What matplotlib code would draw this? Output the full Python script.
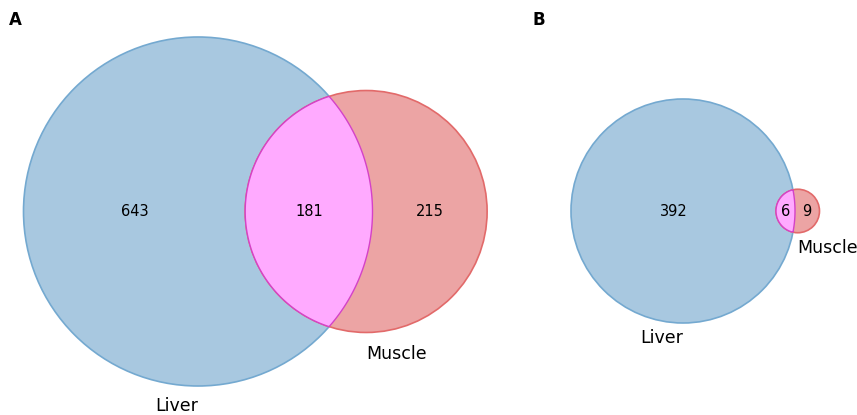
import numpy as np
import matplotlib
matplotlib.use("Agg")
import matplotlib.pyplot as plt
from matplotlib.patches import Circle, Polygon

# ---- data ----
set_names = ["Liver", "Muscle"]
panel_letters = ["A", "B"]
# (only first, overlap, only second)
panel_A_counts = [643, 181, 215]
panel_B_counts = [392, 6, 9]

# ---- style ----
c1_face, c1_edge = "#a8c8e0", "#74a9d0"
c2_face, c2_edge = "#eca4a4", "#e26a6a"
ov_face, ov_edge = "#ffaaff", "#d442c8"

W, H = 857, 415
fig = plt.figure(figsize=(W / 100, H / 100), dpi=100)


def lens_area(r1, r2, d):
    if d >= r1 + r2:
        return 0.0
    if d <= abs(r1 - r2):
        return np.pi * min(r1, r2) ** 2
    a1 = r1 ** 2 * np.arccos((d ** 2 + r1 ** 2 - r2 ** 2) / (2 * d * r1))
    a2 = r2 ** 2 * np.arccos((d ** 2 + r2 ** 2 - r1 ** 2) / (2 * d * r2))
    a3 = 0.5 * np.sqrt((-d + r1 + r2) * (d + r1 - r2) * (d - r1 + r2) * (d + r1 + r2))
    return a1 + a2 - a3


def solve_distance(r1, r2, area):
    lo, hi = abs(r1 - r2), r1 + r2
    for _ in range(200):
        mid = 0.5 * (lo + hi)
        if lens_area(r1, r2, mid) > area:
            lo = mid
        else:
            hi = mid
    return 0.5 * (lo + hi)


def draw_venn(counts, center_px, r1_px, letter_px, letter, pad_px):
    only1, both, only2 = counts
    n1, n2 = only1 + both, only2 + both
    r1 = np.sqrt(n1 / np.pi)
    r2 = np.sqrt(n2 / np.pi)
    d = solve_distance(r1, r2, both)
    s = r1_px / r1  # pixels per unit
    ax = fig.add_axes([0, 0, 1, 1])
    ax.set_facecolor("none")
    cx, cy = center_px
    cy_b = H - cy
    ax.set_xlim(-cx / s, (W - cx) / s)
    ax.set_ylim(-cy_b / s, (H - cy_b) / s)
    ax.set_aspect("equal")
    ax.axis("off")

    ax.add_patch(Circle((0, 0), r1, facecolor=c1_face, edgecolor=c1_edge, lw=1.2))
    ax.add_patch(Circle((d, 0), r2, facecolor=c2_face, edgecolor=c2_edge, lw=1.2))

    # lens
    xi = (d ** 2 + r1 ** 2 - r2 ** 2) / (2 * d)
    yi = np.sqrt(max(r1 ** 2 - xi ** 2, 0))
    t1 = np.arctan2(yi, xi)
    t2 = np.arctan2(yi, xi - d)
    a = np.linspace(-t1, t1, 200)
    b = np.linspace(t2, 2 * np.pi - t2, 200)
    pts = np.vstack([np.column_stack([r1 * np.cos(a), r1 * np.sin(a)]),
                     np.column_stack([d + r2 * np.cos(b), r2 * np.sin(b)])])
    ax.add_patch(Polygon(pts, closed=True, facecolor=ov_face, edgecolor=ov_edge, lw=1.0))

    # region labels (midpoint of x-extent)
    x_only1 = (-r1 + d - r2) / 2
    x_both = (d - r2 + r1) / 2
    x_only2 = (r1 + d + r2) / 2
    for x, v in zip([x_only1, x_both, x_only2], counts):
        ax.text(x, 0, str(v), ha="center", va="center", fontsize=10.5)

    # set labels
    pad = pad_px[0] / s
    ax.text(0, -r1 - pad, set_names[0], ha="right", va="top", fontsize=12.5)
    ax.text(d, -r2 - pad_px[1] / s, set_names[1], ha="left", va="top", fontsize=12.5)

    fig.text(letter_px[0] / W, 1 - letter_px[1] / H, letter, ha="left", va="center",
             fontsize=12, fontweight="bold")


draw_venn(panel_A_counts, (198, 211.5), 174.5, (9, 20), panel_letters[0], (10.5, 13))
draw_venn(panel_B_counts, (683, 211), 112, (532, 20), panel_letters[1], (6, 6))

fig.savefig("out.png", dpi=100)
